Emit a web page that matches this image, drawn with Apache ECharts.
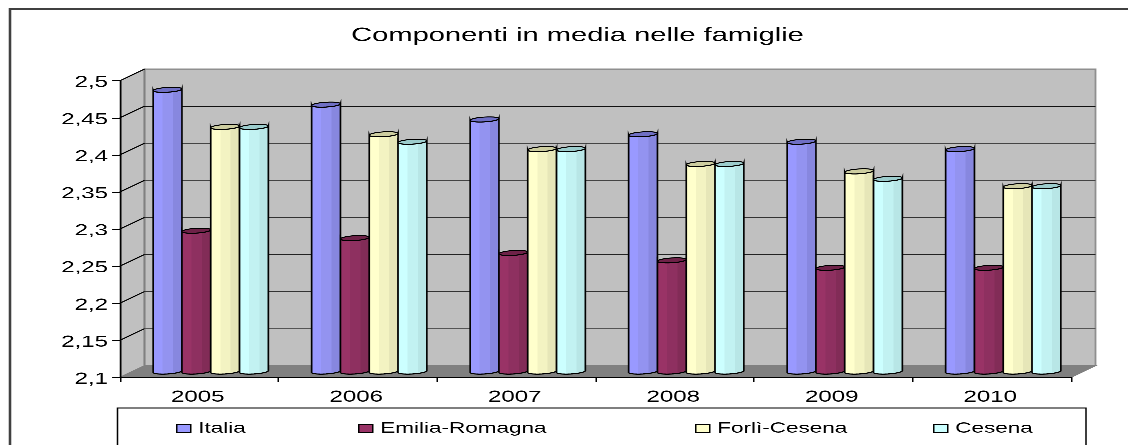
<!DOCTYPE html>
<html><head><meta charset="utf-8">
<style>html,body{margin:0;padding:0;background:#fff;overflow:hidden;width:1128px;height:445px}
#c{width:752px;height:445px;transform:scaleX(1.5);transform-origin:0 0}</style>
<script src="https://cdn.jsdelivr.net/npm/echarts@6/dist/echarts.min.js"></script>
</head><body><div id="c"></div>
<script>
const titleText = 'Componenti in media nelle famiglie';
const years = ['2005','2006','2007','2008','2009','2010'];
const italia = [2.48,2.46,2.44,2.42,2.41,2.40];
const emilia = [2.29,2.28,2.26,2.25,2.24,2.24];
const forli = [2.43,2.42,2.40,2.38,2.37,2.35];
const cesena = [2.43,2.41,2.40,2.38,2.36,2.35];
const yTicks = [2.15,2.2,2.25,2.3,2.35,2.4,2.45,2.5];
const tickInk = ['#555','#333','#222','#333','#444','#444','#111','#888'];

const SX = 1.5;
const DX = 24.5/SX, DY = 11.6;      // depth of the box
const BDX = 11.5/SX, BDY = 5.75;    // bars stand half way in
const BARW = 28.8/SX;

function cyl(fill, band, dark, topc, idx, n){
  return function(params, api){
    const p = api.coord([api.value(0), api.value(1)]);
    const base = api.coord([api.value(0), 2.1]);
    const cx = p[0] + BDX + (idx - (n-1)/2)*BARW;
    const rx = BARW/2, ry = 2.4, k = 0.09;
    const top = p[1]-BDY, bot = base[1]-BDY;
    const pts = (cy,a,b)=>{const o=[];for(let i=0;i<=28;i++){const t=a+(b-a)*i/28;o.push([cx+rx*Math.cos(t), cy+ry*Math.sin(t)-k*rx*Math.cos(t)]);}return o;};
    const body = pts(top,Math.PI,0).concat(pts(bot,0,Math.PI));
    return {type:'group',children:[
      {type:'polygon',shape:{points:body},style:{
        fill:{type:'linear',x:0,y:0,x2:1,y2:0,colorStops:[
          {offset:0,color:fill},{offset:.34,color:fill},{offset:.34,color:band},{offset:.68,color:band},{offset:.68,color:dark},{offset:1,color:dark}]},
        stroke:'#000',lineWidth:1.1}},
      {type:'polygon',shape:{points:pts(top,0,2*Math.PI)},style:{fill:topc,stroke:'#000',lineWidth:1}}
    ]};
  };
}
const styles = [
  ['Italia',italia,'#9999FF','#9393F0','#8787DF','#6F6FC4'],
  ['Emilia-Romagna',emilia,'#993366','#8E3060','#822C57','#6E2248'],
  ['Forlì-Cesena',forli,'#FFFFCC','#F3F3C2','#E6E6B8','#CDCDA0'],
  ['Cesena',cesena,'#CCFFFF','#C2F2F2','#B8E6E6','#9CCCCC']
];
const barSeries = styles.map((s,i)=>({
  type:'custom',name:s[0],z:5,clip:false,
  itemStyle:{color:s[2],borderColor:'#000',borderWidth:1},
  encode:{x:0,y:1},
  data:years.map((y,j)=>[y,s[1][j]]),
  renderItem:cyl(s[2],s[3],s[4],s[5],i,4)
}));
const boxSeries = {
  type:'custom',z:1,clip:false,silent:true,
  encode:{y:1},
  data:yTicks.map((v,i)=>[years[0],v,i]),
  renderItem(params,api){
    const cs = params.coordSys;
    const x0=cs.x, x1=cs.x+cs.width, yT=cs.y, yB=cs.y+cs.height;
    const y = api.coord([years[0],api.value(1)])[1];
    const kids = [];
    if(params.dataIndex===0){
      kids.push({type:'polygon',shape:{points:[[x0,yT],[x0+DX,yT-DY],[x0+DX,yB-DY],[x0,yB]]},style:{fill:'#C0C0C0',stroke:'#A8A8A8',lineWidth:1}});
      kids.push({type:'rect',shape:{x:x0+DX,y:yT-DY,width:cs.width,height:cs.height},style:{fill:'#C0C0C0',stroke:'#8F8F8F',lineWidth:1.2}});
      kids.push({type:'polygon',shape:{points:[[x0,yB],[x0+DX,yB-DY],[x1+DX,yB-DY],[x1,yB]]},style:{fill:'#808080',stroke:'#808080',lineWidth:1}});
      kids.push({type:'line',shape:{x1:x0+DX,y1:yT-DY,x2:x0+DX,y2:yB-DY},style:{stroke:'#808080',lineWidth:1.4}});
    }
    const ink = tickInk[api.value(2)];
    if(api.value(1)<2.5){
      kids.push({type:'line',shape:{x1:x0+DX,y1:y-DY,x2:x1+DX,y2:y-DY},style:{stroke:ink,lineWidth:1}});
    }
    kids.push({type:'line',shape:{x1:x0,y1:y,x2:x0+DX,y2:y-DY},style:{stroke:'#000',lineWidth:1}});
    return {type:'group',children:kids};
  }
};
const legendLefts = [176,358,695,933];
const chart = echarts.init(document.getElementById('c'),null,{width:752,height:445,devicePixelRatio:3});
chart.setOption({
  animation:false,backgroundColor:'#fff',
  textStyle:{fontFamily:'"Liberation Sans"',color:'#000'},
  title:{text:titleText,left:570/SX,top:21,textAlign:'center',
    textStyle:{fontFamily:'"Liberation Sans"',fontSize:19.4,fontWeight:'normal',color:'#000'}},
  grid:{left:120/SX,right:(1128-1071)/SX,top:80.7,bottom:445-377.3,containLabel:false},
  xAxis:{type:'category',data:years,z:4,boundaryGap:true,
    axisLine:{onZero:false,lineStyle:{color:'#000',width:1}},
    axisTick:{show:true,length:5,lineStyle:{color:'#000',width:1}},
    axisLabel:{fontFamily:'"Liberation Sans"',fontSize:16,color:'#000',margin:12,interval:0,padding:[0,2,0,0]},
    splitLine:{show:false}},
  yAxis:{type:'value',min:2.1,max:2.5,interval:0.05,z:4,
    axisLine:{show:true,lineStyle:{color:'#000',width:1}},
    axisTick:{show:true,length:5.3,lineStyle:{color:'#000',width:1}},
    axisLabel:{color:'#000',margin:8,
      rich:{a:{fontFamily:'"Liberation Sans"',fontSize:16,color:'#000',padding:[4,0,0,0]}},
      formatter:v=>'{a|'+String(+v.toFixed(2)).replace('.',',')+'}'},
    splitLine:{show:false}},
  legend:styles.map((s,i)=>({
    data:[s[0]],left:legendLefts[i]/SX,top:421,selectedMode:false,
    icon:'rect',itemWidth:14/SX,itemHeight:8,padding:0,
    itemStyle:{borderColor:'#000',borderWidth:1},
    textStyle:{fontFamily:'"Liberation Sans"',fontSize:15,color:'#000'}
  })),
  graphic:[
    {type:'rect',silent:true,z:-1,shape:{x:10/SX,y:9,width:800,height:500},style:{fill:'#fff',stroke:'#404040',lineWidth:1.7}},
    {type:'rect',silent:true,z:-1,shape:{x:117.5/SX,y:408,width:(1086-117.5)/SX,height:100},style:{fill:'#fff',stroke:'#000',lineWidth:1}}
  ],
  series:[boxSeries].concat(barSeries)
});
</script></body></html>
